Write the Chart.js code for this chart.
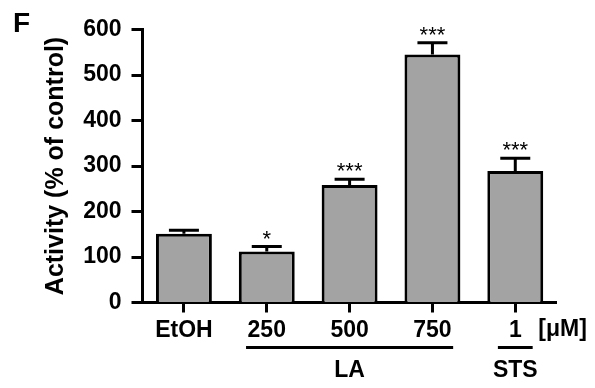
<!DOCTYPE html>
<html><head><meta charset="utf-8">
<script src="https://cdn.jsdelivr.net/npm/chart.js@4/dist/chart.umd.min.js"></script>
<style>html,body{margin:0;padding:0;background:#fff}#wrap{width:595px;height:388px;position:relative}</style>
</head><body><div id="wrap"><canvas id="c"></canvas></div>
<script>
const categories = ['EtOH', '250', '500', '750', '1'];
const values = [151, 112, 258, 545, 289];
const errors = [8, 11, 13, 26, 28];
const stars = ['', '*', '***', '***', '***'];
const yTicks = [0, 100, 200, 300, 400, 500, 600];
const groupNames = ['LA', 'STS'];
const groupFrom = [1, 4];
const groupTo = [3, 4];
const unitLabel = '[μM]';
const panelLetter = 'F';
const yTitle = 'Activity (% of control)';

const FONT = '"Liberation Sans", Arial, sans-serif';

const overlay = {
  id: 'overlay',
  afterDatasetsDraw(chart) {
    const ctx = chart.ctx, x = chart.scales.x, y = chart.scales.y;
    ctx.save();
    ctx.strokeStyle = '#000';
    ctx.fillStyle = '#000';
    ctx.lineWidth = 3;
    values.forEach((v, i) => {
      const cx = x.getPixelForValue(i);
      const yTop = y.getPixelForValue(v);
      const yErr = y.getPixelForValue(v + errors[i]);
      ctx.beginPath();
      ctx.moveTo(cx, yTop);
      ctx.lineTo(cx, yErr);
      ctx.moveTo(cx - 15, yErr);
      ctx.lineTo(cx + 15, yErr);
      ctx.stroke();
      if (stars[i]) {
        ctx.font = '22px ' + FONT;
        ctx.textAlign = 'center';
        ctx.textBaseline = 'alphabetic';
        ctx.fillText(stars[i], cx, yErr - 1);
      }
    });
    ctx.restore();
  },
  afterDraw(chart) {
    const ctx = chart.ctx, x = chart.scales.x;
    const catW = x.getPixelForValue(1) - x.getPixelForValue(0);
    ctx.save();
    ctx.fillStyle = '#000';
    ctx.strokeStyle = '#000';
    ctx.lineWidth = 3;
    groupNames.forEach((g, k) => {
      const ext = groupFrom[k] === groupTo[k] ? 0.21 * catW : 0.25 * catW;
      const x0 = x.getPixelForValue(groupFrom[k]) - ext;
      const x1 = x.getPixelForValue(groupTo[k]) + ext;
      ctx.beginPath();
      ctx.moveTo(x0, 347.5);
      ctx.lineTo(x1, 347.5);
      ctx.stroke();
      ctx.font = 'bold 23px ' + FONT;
      ctx.textAlign = 'center';
      ctx.textBaseline = 'alphabetic';
      ctx.fillText(g, (x0 + x1) / 2, 377);
    });
    ctx.font = 'bold 23px ' + FONT;
    ctx.textAlign = 'left';
    ctx.fillText(unitLabel, x.getPixelForValue(categories.length - 1) + 23, 336);
    ctx.font = 'bold 28px ' + FONT;
    ctx.fillText(panelLetter, 13, 32);
    ctx.restore();
  }
};

new Chart(document.getElementById('c'), {
  type: 'bar',
  data: {
    labels: categories,
    datasets: [{
      data: values,
      backgroundColor: '#a3a3a3',
      borderColor: '#000',
      borderWidth: 3,
      borderSkipped: 'bottom',
      categoryPercentage: 1,
      barPercentage: 0.675
    }]
  },
  options: {
    responsive: true,
    maintainAspectRatio: false,
    animation: false,
    layout: { padding: { top: 29.5, right: 38.3, left: 0, bottom: 0 } },
    plugins: { legend: { display: false }, tooltip: { enabled: false } },
    scales: {
      x: {
        offset: true,
        grid: { offset: false, drawOnChartArea: false, tickLength: 10, tickWidth: 3, tickColor: '#000' },
        border: { display: true, color: '#000', width: 3 },
        ticks: { color: '#000', padding: 4, font: { family: FONT, size: 23, weight: 'bold' }, maxRotation: 0 },
        afterFit(s) { s.height = 85.5; }
      },
      y: {
        min: 0, max: 600,
        afterBuildTicks(s) { s.ticks = yTicks.map(v => ({ value: v })); },
        grid: { drawOnChartArea: false, tickLength: 11, tickWidth: 3, tickColor: '#000' },
        border: { display: true, color: '#000', width: 3 },
        ticks: { color: '#000', padding: 10, font: { family: FONT, size: 23, weight: 'bold' } },
        title: { display: true, text: yTitle, color: '#000', font: { family: FONT, size: 25, weight: 'bold' }, padding: { top: 41, bottom: 0 } },
        afterFit(s) { s.width = 142.5; }
      }
    }
  },
  plugins: [overlay]
});
</script></body></html>
